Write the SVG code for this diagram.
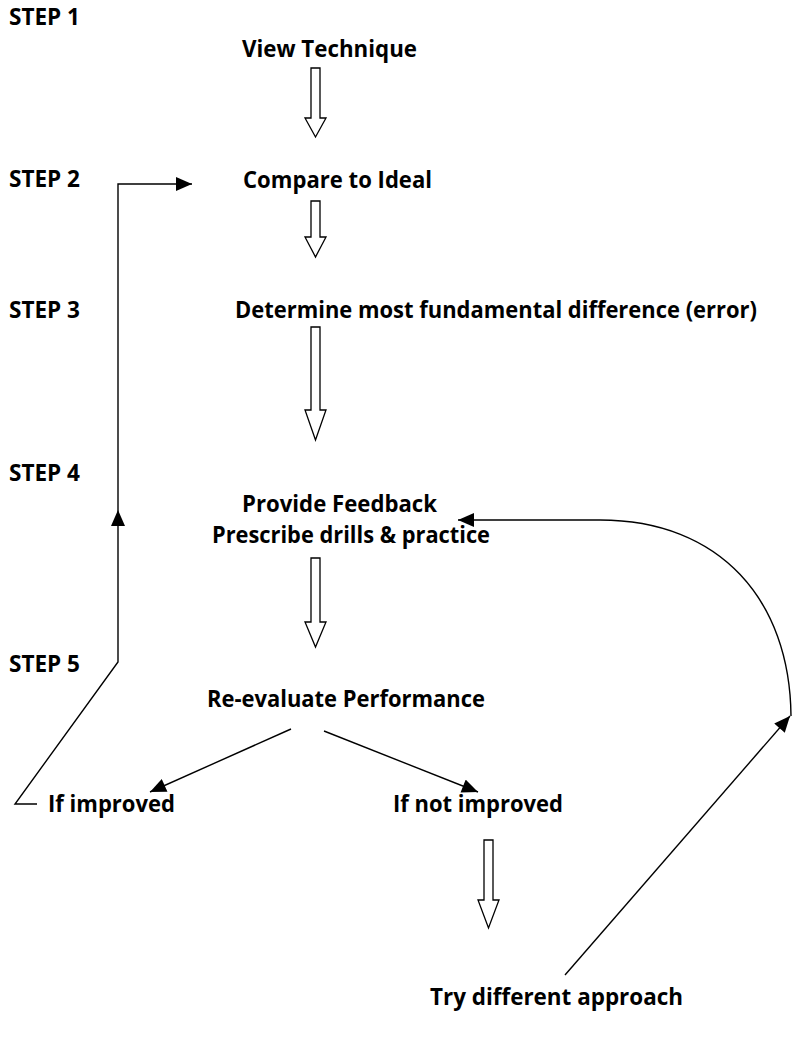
<svg xmlns="http://www.w3.org/2000/svg" width="794" height="1041" viewBox="0 0 794 1041">
<style>
text{font-family:"Open Sans",Lato,"Liberation Sans",sans-serif;font-weight:bold;font-size:23px;fill:#000}
.ln{fill:none;stroke:#000;stroke-width:1.4}
.ho{fill:#fff;stroke:#000;stroke-width:1.3}
</style>
<defs>
<marker id="ah" viewBox="0 0 16 14" refX="16" refY="7" markerWidth="17" markerHeight="14" markerUnits="userSpaceOnUse" orient="auto">
<path d="M0,0 L16,7 L0,14 Z" fill="#000"/>
</marker>
</defs>
<rect width="794" height="1041" fill="#fff"/>
<g id="steps">
<text x="9" y="25" textLength="71" lengthAdjust="spacingAndGlyphs">STEP 1</text>
<text x="9" y="187" textLength="71" lengthAdjust="spacingAndGlyphs">STEP 2</text>
<text x="9" y="318" textLength="71" lengthAdjust="spacingAndGlyphs">STEP 3</text>
<text x="9" y="481" textLength="71" lengthAdjust="spacingAndGlyphs">STEP 4</text>
<text x="9" y="672" textLength="71" lengthAdjust="spacingAndGlyphs">STEP 5</text>
</g>
<g id="n-view"><text x="242" y="57" textLength="175" lengthAdjust="spacingAndGlyphs">View Technique</text></g>
<g id="n-compare"><text x="243" y="188" textLength="189" lengthAdjust="spacingAndGlyphs">Compare to Ideal</text></g>
<g id="n-determine"><text x="235" y="318" textLength="522" lengthAdjust="spacingAndGlyphs">Determine most fundamental difference (error)</text></g>
<g id="n-feedback">
<text x="242" y="512" textLength="195" lengthAdjust="spacingAndGlyphs">Provide Feedback</text>
<text x="212" y="543" textLength="278" lengthAdjust="spacingAndGlyphs">Prescribe drills &amp; practice</text>
</g>
<g id="n-reeval"><text x="207" y="707" textLength="278" lengthAdjust="spacingAndGlyphs">Re-evaluate Performance</text></g>
<g id="n-improved"><text x="48" y="812" textLength="127" lengthAdjust="spacingAndGlyphs">If improved</text></g>
<g id="n-notimproved"><text x="393" y="812" textLength="170" lengthAdjust="spacingAndGlyphs">If not improved</text></g>
<g id="n-try"><text x="430" y="1005" textLength="253" lengthAdjust="spacingAndGlyphs">Try different approach</text></g>
<g id="connectors">
<path class="ho" d="M311,68 L320,68 L320,118 L326,118 L315.5,137 L305,118 L311,118 Z"/>
<path class="ho" d="M311,201 L320,201 L320,237 L326,237 L315.5,257 L305,237 L311,237 Z"/>
<path class="ho" d="M311,327 L320,327 L320,410 L326,410 L315.5,440 L305,410 L311,410 Z"/>
<path class="ho" d="M311,558 L320,558 L320,622 L326,622 L315.5,647 L305,622 L311,622 Z"/>
<path class="ho" d="M484,840 L493,840 L493,900 L499,900 L488.5,928 L478,900 L484,900 Z"/>
<path class="ln" d="M37,804 L15,804 L118,662 L118,510" marker-end="url(#ah)"/>
<path class="ln" d="M118,510 L118,184 L192,184" marker-end="url(#ah)"/>
<path class="ln" d="M291,729 L150,792" marker-end="url(#ah)"/>
<path class="ln" d="M324,731 L478,792" marker-end="url(#ah)"/>
<path class="ln" d="M565,975 L790,716" marker-end="url(#ah)"/>
<path class="ln" d="M791,716 C790,600 720,520 600,520 L458,520" marker-end="url(#ah)"/>
</g>
</svg>
